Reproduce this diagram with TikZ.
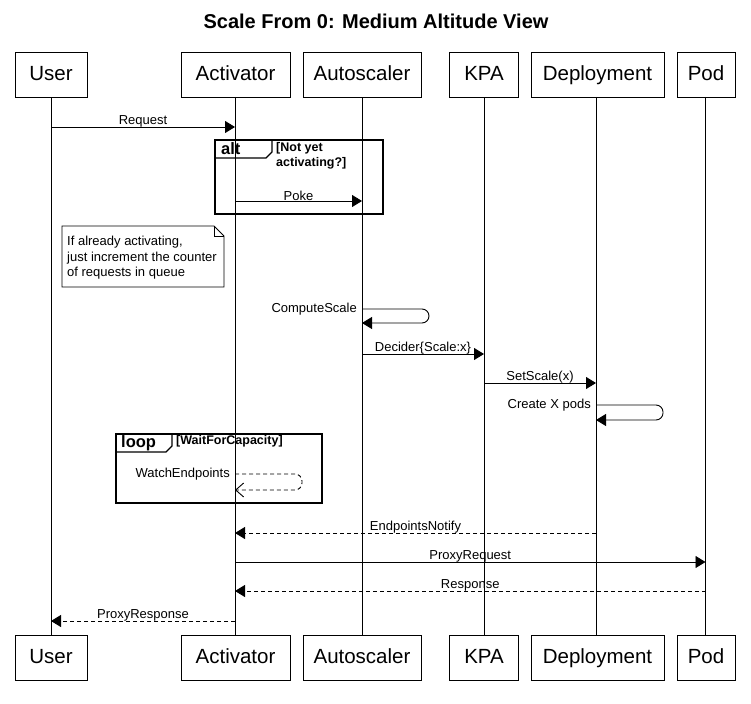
\documentclass[tikz,border=0pt]{standalone}
\usepackage{fontspec}
\setmainfont{Liberation Sans}
\usetikzlibrary{arrows.meta}
\begin{document}
\begin{tikzpicture}[x=1pt,y=-1pt,
  part/.style={draw, line width=0.9pt, minimum height=45pt, inner sep=0pt, text height=15pt, text depth=2.5pt, font=\fontsize{20.5}{22}\selectfont},
  life/.style={line width=0.9pt},
  msg/.style={line width=0.9pt, -{Triangle[length=10pt,width=12pt]}},
  retmsg/.style={msg, dash pattern=on 4pt off 3pt},
  openmsg/.style={line width=0.9pt, dash pattern=on 4pt off 3pt, -{Straight Barb[length=8pt,width=14pt,line width=0.9pt]}},
  lbl/.style={font=\fontsize{13}{15}\selectfont, inner sep=1pt},
  mlbl/.style={lbl, above, yshift=-1.5pt},
  frame/.style={line width=1.5pt},
  tab/.style={line width=1.1pt},
  fragname/.style={font=\bfseries\fontsize{16.5}{18}\selectfont, inner sep=0pt, anchor=west},
  guard/.style={font=\bfseries\fontsize{12.5}{14.5}\selectfont, inner sep=0pt, align=left}
]
\useasboundingbox (0,0) rectangle (751,703);
\def\xU{51}\def\xA{235}\def\xS{362}\def\xK{484}\def\xD{596}\def\xP{705.5}

\node[font=\bfseries\fontsize{20}{24}\selectfont] (title) at (376,21) {Scale From 0: Medium Altitude View};

% participants
\foreach \n/\t/\x/\w in {user/User/51/72, act/Activator/235.5/109, auto/Autoscaler/362/118, kpa/KPA/484/69, dep/Deployment/597.5/133, pod/Pod/706/58}{
  \node[part, minimum width=\w pt] (\n T) at (\x,74.5) {\t};
  \node[part, minimum width=\w pt] (\n B) at (\x,657.5) {\t};
}
\draw[life] (userT.south) -- (userB.north);
\draw[life] (\xA,97) coordinate (actL1) -- (\xA,635) coordinate (actL2);
\draw[life] (autoT.south) -- (autoB.north);
\draw[life] (kpaT.south) -- (kpaB.north);
\draw[life] (\xD,97) coordinate (depL1) -- (\xD,635) coordinate (depL2);
\draw[life] (\xP,97) coordinate (podL1) -- (\xP,635) coordinate (podL2);

% Request
\coordinate (m1s) at (\xU,127); \coordinate (m1e) at (\xA,127);
\draw[msg] (m1s) -- node[mlbl] {Request} (m1e);

% alt fragment
\draw[frame] (215,140) rectangle (383,214);
\draw[tab] (215,158) -- (266,158) -- (272,152) -- (272,140);
\node[fragname] (altn) at (221,149) {alt};
\node[guard, anchor=north west] (altg) at (276,142.5) {[Not yet\\activating?]};
\coordinate (m2s) at (\xA,201); \coordinate (m2e) at (\xS,201);
\draw[msg] (m2s) -- node[mlbl] {Poke} (m2e);

% note
\draw[line width=0.9pt] (62,226) -- (214,226) -- (224,236) -- (224,287) -- (62,287) -- cycle;
\draw[line width=0.9pt] (214,226) -- (214,236) -- (224,236);
\node[lbl, anchor=north west, align=left, font=\fontsize{13}{15.5}\selectfont] (note) at (66,235)
  {If already activating,\\just increment the counter\\of requests in queue};

% ComputeScale
\coordinate (cs1) at (\xS,309); \coordinate (cs2) at (\xS,323);
\draw[msg, rounded corners=7pt] (cs1) -- (429,309) -- (429,323) -- (cs2);
\node[lbl, anchor=east] at (358,309) {ComputeScale};

% Decider
\coordinate (m3s) at (\xS,354); \coordinate (m3e) at (\xK,354);
\draw[msg] (m3s) -- node[mlbl] {Decider\{Scale:x\}} (m3e);

% SetScale
\coordinate (m4s) at (\xK,383); \coordinate (m4e) at (\xD,383);
\draw[msg] (m4s) -- node[mlbl] {SetScale(x)} (m4e);

% Create X pods
\coordinate (cp1) at (\xD,405); \coordinate (cp2) at (\xD,420);
\draw[msg, rounded corners=7pt] (cp1) -- (663,405) -- (663,420) -- (cp2);
\node[lbl, anchor=east] at (592,405) {Create X pods};

% loop fragment
\draw[frame] (116,434) rectangle (322,503);
\draw[tab] (116,452) -- (166,452) -- (172,446) -- (172,434);
\node[fragname] (loopn) at (121,443) {loop};
\node[guard, anchor=west] (loopg) at (176,441.5) {[WaitForCapacity]};
\coordinate (we1) at (\xA,474); \coordinate (we2) at (\xA,490);
\draw[openmsg, rounded corners=7pt] (we1) -- (302,474) -- (302,490) -- (we2);
\node[lbl, anchor=east] at (231,474) {WatchEndpoints};

% EndpointsNotify
\coordinate (m5s) at (\xD,533); \coordinate (m5e) at (\xA,533);
\draw[retmsg] (m5s) -- node[mlbl] {EndpointsNotify} (m5e);

% ProxyRequest
\coordinate (m6s) at (\xA,562); \coordinate (m6e) at (\xP,562);
\draw[msg] (m6s) -- node[mlbl] {ProxyRequest} (m6e);

% Response
\coordinate (m7s) at (\xP,591); \coordinate (m7e) at (\xA,591);
\draw[retmsg] (m7s) -- node[mlbl] {Response} (m7e);

% ProxyResponse
\coordinate (m8s) at (\xA,621); \coordinate (m8e) at (\xU,621);
\draw[retmsg] (m8s) -- node[mlbl] {ProxyResponse} (m8e);
\end{tikzpicture}
\end{document}
